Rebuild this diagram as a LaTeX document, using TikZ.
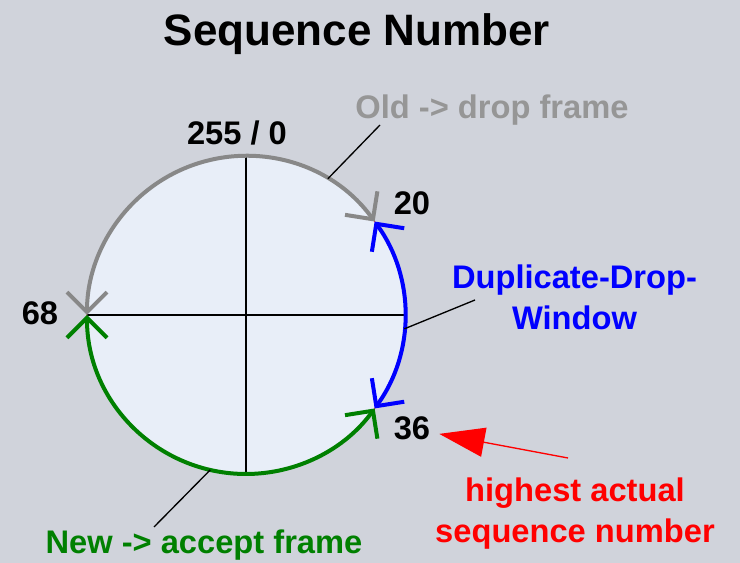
\documentclass[tikz,border=0pt]{standalone}
\usepackage{fontspec}
\setmainfont{Liberation Sans}
\usepackage{xcolor}
\usetikzlibrary{arrows.meta, calc}

\definecolor{pagebg}{RGB}{208,211,219}
\definecolor{diskfill}{RGB}{232,238,248}
\definecolor{oldgray}{RGB}{136,136,136}
\definecolor{oldtext}{RGB}{150,150,150}
\definecolor{newgreen}{RGB}{0,128,0}

\tikzset{
  lbl/.style={font=\fontsize{24.5}{30.75}\selectfont\bfseries, inner sep=0pt, anchor=base},
  seqarc/.style={line width=3pt, >={Straight Barb[length=15pt,width=30pt,line width=3pt 0]}, <->},
  leader/.style={line width=1pt},
}

\begin{document}
\begin{tikzpicture}[x=0.75pt, y=0.75pt]

    % Background and fixed frame
    \fill[pagebg] (-246,-248) rectangle (494,315);
    \useasboundingbox (-246,-248) rectangle (494,315);

    % Title
    \node[lbl, font=\fontsize{33}{40}\selectfont\bfseries] (title) at (111,269) {Sequence Number};

    % --- SEQUENCE RING ---
    \node[circle, fill=diskfill, draw=red, line width=0.4pt, minimum size=238.5pt,
          inner sep=0pt, outer sep=0pt] (seq) at (0,0) {};
    \draw[line width=1pt] (seq.west) -- (seq.east);
    \draw[line width=1pt] (seq.north) -- (seq.south);

    % Old, duplicate and new ranges
    \draw[seqarc, oldgray] (seq.36) arc[start angle=36, end angle=180, radius=159];
    \draw[seqarc, blue] (seq.-36) arc[start angle=-36, end angle=36, radius=159];
    \draw[seqarc, newgreen] (seq.180) arc[start angle=180, end angle=324, radius=159];

    % Numbers on the ring
    \node[lbl] (n255) at (-9,170) {255 / 0};
    \node[lbl] (n20) at (166,100) {20};
    \node[lbl] (n36) at (166,-125) {36};
    \node[lbl] (n68) at (-206,-10) {68};

    % --- LABELS ---
    % (base of a two-line node is its last line)
    \node[lbl, oldtext] (old) at (246,196) {Old -> drop frame};
    \node[lbl, blue, align=center] (ddw) at (328.5,-15) {Duplicate-Drop-\\Window};
    \node[lbl, red, align=center] (hi) at (329,-228) {highest actual\\sequence number};
    \node[lbl, newgreen] (new) at (-42,-239) {New -> accept frame};

    % Leader lines
    \coordinate (old-end) at (134,190);
    \coordinate (ddw-end) at (229,15);
    \coordinate (new-end) at (-92,-212);
    \draw[leader] (seq.59) -- (old-end);
    \draw[leader] (seq.-5) -- (ddw-end);
    \draw[leader] (seq.257) -- (new-end);

    % Pointer to the highest sequence number
    \coordinate (hi-tail) at (322,-143);
    \draw[red, line width=1pt, -{Triangle[length=34pt, width=22pt]}, shorten >=6.75pt] (hi-tail) -- (n36);

\end{tikzpicture}
\end{document}
